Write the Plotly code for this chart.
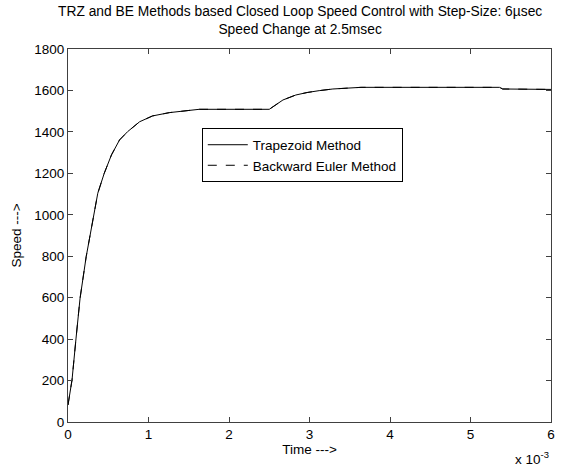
import plotly.graph_objects as go

# Time in units of 1e-3 s (axis shows x 10^-3)
time_ms = [0.0, 0.05, 0.10, 0.15, 0.226, 0.30, 0.37, 0.45, 0.54, 0.64, 0.74, 0.89, 1.05, 1.26,
           1.63, 2.50, 2.67, 2.83, 2.97, 3.12, 3.29, 3.64, 5.36, 5.40, 6.0]
speed_trz = [82, 203, 405, 598, 798, 951, 1104, 1200, 1289, 1361, 1401, 1449, 1477, 1493,
             1509, 1509, 1554, 1578, 1590, 1599, 1607, 1615, 1615, 1607, 1605]
speed_be = [82, 203, 405, 598, 798, 951, 1104, 1200, 1289, 1361, 1401, 1449, 1477, 1493,
            1509, 1509, 1554, 1578, 1590, 1599, 1607, 1615, 1615, 1607, 1605]

x_ticks = [0, 1, 2, 3, 4, 5, 6]
y_ticks = [0, 200, 400, 600, 800, 1000, 1200, 1400, 1600, 1800]

font_family = "Liberation Sans, Arial, sans-serif"
FS = 13.5

fig = go.Figure()
fig.add_trace(go.Scatter(x=time_ms, y=speed_trz, mode="lines", name="Trapezoid Method",
                         line=dict(color="black", width=1, dash="solid")))
fig.add_trace(go.Scatter(x=time_ms, y=speed_be, mode="lines", name="Backward Euler Method",
                         line=dict(color="black", width=1, dash="dash")))

axis_common = dict(showline=True, linecolor="#404040", linewidth=1, mirror="allticks",
                   ticks="inside", ticklen=5, tickcolor="#404040", showgrid=False,
                   zeroline=False, tickfont=dict(size=FS, color="black", family=font_family))

fig.update_layout(
    width=566, height=470,
    margin=dict(l=68, r=15, t=49, b=48),
    paper_bgcolor="white", plot_bgcolor="white",
    font=dict(family=font_family, size=FS, color="black"),
    xaxis=dict(range=[0, 6], tickvals=x_ticks, ticktext=[str(v) for v in x_ticks],
               title=dict(text="Time --->", standoff=1, font=dict(size=FS)), **axis_common),
    yaxis=dict(range=[0, 1800], tickvals=y_ticks, ticktext=[str(v) for v in y_ticks],
               title=dict(text="Speed --->", standoff=9, font=dict(size=FS)), **axis_common),
    showlegend=True,
    legend=dict(x=0.277, y=0.787, xanchor="left", yanchor="top", bgcolor="white",
                bordercolor="black", borderwidth=1, font=dict(size=FS),
                tracegroupgap=0, itemwidth=40),
    annotations=[
        dict(text="TRZ and BE Methods based Closed Loop Speed Control with Step-Size: 6µsec<br>Speed Change at 2.5msec",
             xref="paper", yref="paper", x=0.48, y=1.0, xanchor="center", yanchor="bottom",
             yshift=10, showarrow=False, font=dict(size=13.8)),
        dict(text="x 10<sup>-3</sup>", xref="paper", yref="paper",
             x=1.0, y=-0.125, xanchor="right", yanchor="bottom",
             showarrow=False, font=dict(size=FS)),
    ],
)

fig.write_html("out.html", config={"displayModeBar": False},
               post_script="document.body.style.margin='0';document.body.style.overflow='hidden';")
